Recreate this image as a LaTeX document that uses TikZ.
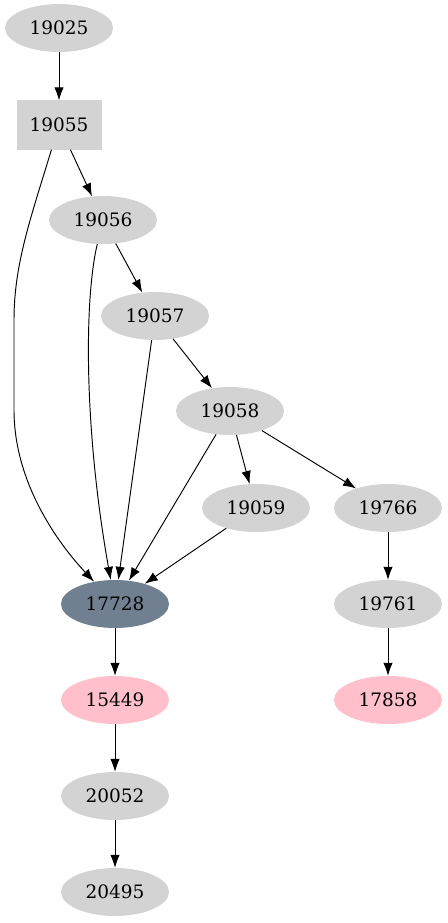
\documentclass[tikz,border=0pt]{standalone}
\usepackage{fontspec}
\setmainfont{DejaVu Serif}
\usetikzlibrary{shapes.geometric,arrows.meta}
\definecolor{lgray}{HTML}{D3D3D3}
\definecolor{slate}{HTML}{708090}
\definecolor{pinkc}{HTML}{FFC0CB}
\tikzset{
  every node/.style={font=\fontsize{18.5}{20}\selectfont},
  ell/.style={ellipse, fill=lgray, minimum width=108pt, minimum height=48pt, inner sep=0pt},
  boxn/.style={rectangle, fill=lgray, minimum width=85pt, minimum height=49pt, inner sep=0pt},
  edge/.style={draw=black, line width=0.95pt, -{Latex[length=13pt,width=9.5pt]}}
}
\begin{document}
\begin{tikzpicture}[x=1pt,y=-1pt]
\useasboundingbox (0,0) rectangle (447,923);
\node[ell] (n19025) at (59,28) {19025};
\node[boxn] (n19055) at (59,125) {19055};
\node[ell] (n19056) at (103,220) {19056};
\node[ell] (n19057) at (155,316) {19057};
\node[ell] (n19058) at (230,411) {19058};
\node[ell] (n19059) at (256,508) {19059};
\node[ell] (n19766) at (388,508) {19766};
\node[ell, fill=slate] (n17728) at (115,604) {17728};
\node[ell] (n19761) at (388,604) {19761};
\node[ell, fill=pinkc] (n15449) at (115,700) {15449};
\node[ell, fill=pinkc] (n17858) at (388,700) {17858};
\node[ell] (n20052) at (115,796) {20052};
\node[ell] (n20495) at (115,892) {20495};

\draw[edge] (n19025) -- (n19055);
\draw[edge] (n19055) -- (n19056);
\draw[edge] (n19055) .. controls (30,220) and (14,265) .. (14,320) -- (14,410) .. controls (14,480) and (55,540) .. (n17728);
\draw[edge] (n19056) -- (n19057);
\draw[edge] (n19056) .. controls (84,300) and (84,430) .. (n17728);
\draw[edge] (n19057) -- (n19058);
\draw[edge] (n19057) -- (n17728);
\draw[edge] (n19058) -- (n19059);
\draw[edge] (n19058) -- (n19766);
\draw[edge] (n19058) -- (n17728);
\draw[edge] (n19059) -- (n17728);
\draw[edge] (n19766) -- (n19761);
\draw[edge] (n19761) -- (n17858);
\draw[edge] (n17728) -- (n15449);
\draw[edge] (n15449) -- (n20052);
\draw[edge] (n20052) -- (n20495);
\end{tikzpicture}
\end{document}
